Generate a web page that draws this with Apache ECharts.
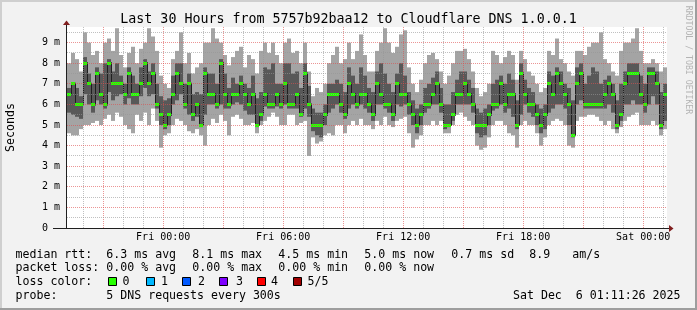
<!DOCTYPE html>
<html><head><meta charset="utf-8">
<script src="https://cdn.jsdelivr.net/npm/echarts@6/dist/echarts.min.js"></script>
<style>html,body{margin:0;padding:0;background:#f2f2f2}#c{width:697px;height:310px}</style>
</head><body><div id="c"></div>
<script>
// ---- data (ms), one column per 12 minutes, Thu 19:11:26 -> Sat 01:11:26 ----
const maxV = [8.0,8.5,8.2,7.6,9.5,9.0,8.4,8.6,8.0,9.0, 9.2,8.6,9.7,8.4,7.8,8.5,8.8,8.0,8.7,9.0, 9.7,9.3,8.6,7.4,7.0,6.8,8.2,8.6,9.5,8.0, 8.5,7.5,7.8,8.0,9.0,9.0,9.7,9.2,9.0,8.4, 7.9,8.3,8.6,8.8,7.8,8.4,8.2,7.5,8.6,9.0, 8.5,9.0,8.4,8.0,9.0,9.2,8.5,8.6,8.0,9.0, 7.6,6.4,6.8,6.6,7.0,8.0,8.4,8.8,8.0,8.2, 9.0,8.2,8.6,9.4,8.4,7.6,7.6,8.6,9.0,9.7, 9.0,8.5,8.8,9.4,9.6,7.8,7.0,6.6,7.2,8.0, 8.4,8.5,8.2,7.6,7.0,7.4,8.0,8.6,8.6,8.7, 8.2,7.6,6.8,6.4,6.6,7.0,8.6,8.4,8.0,8.3, 8.6,8.4,7.2,8.6,8.2,7.6,7.4,7.0,6.6,6.8, 8.6,8.4,9.2,8.2,8.0,7.6,7.4,8.6,8.6,8.4, 8.8,9.0,9.0,9.5,8.2,8.0,7.6,7.4,8.6,9.0, 9.0,9.2,9.7,8.6,8.0,8.0,8.2,8.0,7.6,7.8];
const q4V = [6.8,7.0,6.8,6.4,8.3,7.5,7.0,7.8,7.5,8.0, 8.2,7.6,8.0,7.4,7.0,7.8,7.4,7.0,7.8,8.2, 7.6,8.0,7.0,6.4,6.2,6.3,7.4,8.0,8.0,7.0, 7.5,6.5,6.6,6.5,7.8,7.5,7.5,7.0,8.2,7.5, 6.8,7.3,7.0,7.4,7.0,6.8,7.4,6.3,6.6,7.8, 7.7,8.0,7.0,7.0,8.0,8.0,7.5,7.6,6.8,8.0, 6.9,5.8,5.6,5.6,6.0,7.0,7.0,7.2,7.0,6.6, 7.8,7.4,7.0,7.8,7.4,6.8,6.6,7.6,8.0,7.5, 7.0,6.6,7.5,8.0,7.4,6.6,6.2,5.8,6.0,6.8, 7.0,7.3,7.6,6.8,6.0,6.0,6.6,7.2,7.6,7.6, 7.2,6.8,5.8,5.6,5.8,6.0,7.0,7.2,7.4,7.0, 7.5,7.2,6.2,8.0,7.2,6.8,6.6,6.0,5.8,6.0, 7.6,7.4,7.8,7.6,7.0,6.8,6.2,7.8,8.0,7.0, 7.4,7.8,7.6,7.0,7.2,7.4,7.0,6.2,7.0,7.6, 8.0,8.0,8.0,7.4,7.0,7.8,7.8,7.6,6.6,7.0];
const medV = [6.5,7.0,6.0,6.0,8.0,7.0,6.0,7.5,6.5,6.0, 8.0,7.0,7.0,7.0,6.5,7.5,6.5,6.5,7.0,8.0, 7.0,7.5,6.0,5.5,5.0,5.5,6.5,7.5,7.0,6.0, 7.0,5.5,6.0,5.0,7.5,6.5,6.5,6.0,8.0,6.5, 6.0,6.5,6.5,7.0,6.5,6.0,6.5,5.0,5.5,6.5, 6.0,6.0,6.5,6.0,7.0,6.0,6.0,6.5,5.5,7.5, 6.0,5.0,5.0,5.0,5.5,6.5,6.5,6.5,6.0,5.5, 7.0,6.5,6.0,6.5,6.5,6.0,5.5,7.0,6.5,6.0, 6.0,5.5,7.0,6.5,6.5,6.0,5.5,5.0,5.5,6.0, 6.0,6.5,7.0,6.0,5.0,5.0,5.5,6.5,6.5,7.0, 6.5,6.0,5.0,5.0,5.0,5.5,6.0,6.0,7.0,6.0, 6.5,6.5,5.0,7.5,6.5,6.0,6.0,5.5,5.0,5.5, 7.0,6.5,7.5,7.0,6.5,6.0,4.5,7.0,7.5,6.0, 6.0,6.0,6.0,6.0,6.5,7.0,6.5,5.0,5.5,7.0, 7.5,7.5,7.5,6.5,6.0,7.5,7.5,7.0,5.0,6.5];
const q2V = [5.6,5.5,5.4,5.3,6.5,6.0,5.6,6.2,6.0,5.8, 6.6,6.2,6.4,6.5,6.0,6.3,6.0,6.0,6.4,6.8, 6.4,6.5,5.8,5.0,4.8,5.0,6.0,6.2,6.5,5.8, 5.5,5.2,5.4,4.9,5.5,6.0,6.0,5.8,6.0,5.8, 5.8,6.0,6.1,6.0,5.7,5.5,5.5,4.9,5.2,5.9, 5.8,5.8,5.9,5.8,6.0,5.8,5.8,5.8,5.4,5.8, 5.4,4.7,4.5,4.4,5.0,5.6,5.8,6.0,5.6,5.3, 5.8,6.0,5.8,6.0,5.8,5.6,5.2,6.0,6.0,5.8, 5.6,5.2,6.0,5.9,6.0,5.5,5.0,4.6,5.0,5.6, 5.8,6.0,6.0,5.6,4.8,4.9,5.2,6.0,6.0,6.0, 6.0,5.6,4.6,4.4,4.5,5.0,5.7,5.8,6.0,5.6, 5.8,5.4,4.8,5.5,6.0,5.6,5.4,5.0,4.6,4.8, 5.6,5.8,6.0,6.0,5.8,5.0,4.4,6.0,6.2,5.8, 5.8,5.8,5.8,5.8,5.8,6.0,5.6,4.8,5.2,6.0, 6.0,6.2,6.0,6.0,5.6,6.0,6.4,6.0,4.8,5.2];
const minV = [4.6,4.5,4.5,4.8,5.0,5.0,5.1,5.2,5.0,5.3, 5.5,5.2,5.6,5.4,5.0,4.8,4.6,5.5,5.2,5.6, 5.0,5.8,5.2,3.9,4.5,4.6,5.0,5.3,5.2,5.0, 4.7,4.6,4.8,4.5,4.0,5.0,5.3,5.1,5.5,5.2, 4.5,5.4,5.5,5.3,5.0,5.0,5.1,4.6,5.0,5.2, 5.4,5.6,5.4,5.0,5.0,5.5,5.5,5.0,5.1,5.2, 3.5,4.4,4.1,4.2,4.5,4.6,4.5,5.0,5.0,4.6, 5.0,5.2,5.0,5.3,5.0,5.0,4.8,5.2,5.0,5.4, 5.0,4.9,5.2,5.3,5.4,4.6,3.9,4.3,4.5,5.0, 5.0,5.2,5.0,5.2,4.6,4.6,5.0,5.5,5.6,5.4, 5.2,5.0,4.0,3.8,3.9,4.4,5.0,5.2,5.2,5.0, 4.6,4.5,3.9,5.0,5.2,5.0,5.0,4.6,4.0,4.4, 5.0,5.2,5.3,5.2,5.0,4.0,3.9,5.2,5.4,5.4, 5.5,5.5,5.4,5.2,5.0,5.2,4.8,4.6,4.9,5.2, 5.4,5.5,5.6,5.0,5.0,5.0,5.2,5.0,4.5,4.8];

const startH = -(4 + 48/60 + 34/3600);   // Thu 19:11:26, hours relative to Fri 00:00
const stepH = 0.2;                        // 12 minutes per column
const endH = startH + 30;
const yMaxAxis = 9.76;

const xTickValues = [0, 6, 12, 18, 24];
const xTickLabels = ['Fri 00:00', 'Fri 06:00', 'Fri 12:00', 'Fri 18:00', 'Sat 00:00'];
const yTickValues = [0, 1, 2, 3, 4, 5, 6, 7, 8, 9];
const yTickLabels = ['0  ', '1 m', '2 m', '3 m', '4 m', '5 m', '6 m', '7 m', '8 m', '9 m'];

const lossLabels = ['0', '1', '2', '3', '4', '5/5'];
const lossColors = ['#26ff00', '#00b8ff', '#0059ff', '#7e00ff', '#ff0000', '#a10000'];

const statRtt = ['6.3 ms avg', '8.1 ms max', '4.5 ms min', '5.0 ms now', '0.7 ms sd', '8.9', 'am/s'];
const statLoss = ['0.00 % avg', '0.00 % max', '0.00 % min', '0.00 % now'];

// ---- build ----
const smokeData = medV.map((m, i) => [startH + i * stepH, minV[i], q2V[i], m, q4V[i], maxV[i], i > 0 ? medV[i - 1] : NaN]);
const vGrid = [];
for (let h = Math.ceil(startH); h <= Math.floor(endH); h++) vGrid.push([h, 0, (h % 3 === 0) ? 1 : 0]);
const hGrid = [];
for (let v = 0.5; v < yMaxAxis; v += 0.5) hGrid.push([startH, v, Number.isInteger(v) ? 1 : 0]);

const MONO = '"DejaVu Sans Mono", monospace';
const minorCol = 'rgba(150,150,150,0.6)';
const majorCol = 'rgba(222,79,79,0.6)';

function renderSmoke(params, api) {
  const x0 = api.value(0);
  const xa = api.coord([x0, 0])[0], xb = api.coord([x0 + stepH, 0])[0];
  const y = v => api.coord([x0, v])[1];
  const yMin = y(api.value(1)), yQ2 = y(api.value(2)), yMed = y(api.value(3)), yQ4 = y(api.value(4)), yMax = y(api.value(5));
  const prev = api.value(6);
  const ch = [
    {type: 'rect', shape: {x: xa, y: yMax, width: xb - xa, height: yMin - yMax}, style: {fill: '#a4a4a4'}},
    {type: 'rect', shape: {x: xa, y: yQ4, width: xb - xa, height: yQ2 - yQ4}, style: {fill: '#585858'}}
  ];
  if (!isNaN(prev)) {
    const yp = y(prev);
    const t = Math.min(yp, yMed) - 1, b = Math.max(yp, yMed) + 1;
    ch.push({type: 'rect', shape: {x: Math.round(xa), y: t, width: 1, height: b - t}, style: {fill: '#202020'}});
  }
  ch.push({type: 'rect', shape: {x: xa, y: Math.round(yMed - 1.5), width: xb - xa, height: 3}, style: {fill: lossColors[0]}});
  return {type: 'group', children: ch};
}
function renderVGrid(params, api) {
  const h = api.value(0);
  const x = Math.floor(api.coord([h, 0])[0]) + 0.5;
  const top = api.coord([h, yMaxAxis])[1], bot = api.coord([h, 0])[1];
  return {type: 'line', shape: {x1: x, y1: top, x2: x, y2: bot},
    style: {stroke: api.value(2) ? majorCol : minorCol, lineWidth: 1, lineDash: [1, 1]}};
}
function renderHGrid(params, api) {
  const v = api.value(1);
  const yy = Math.floor(api.coord([startH, v])[1]) + 0.5;
  const x1 = api.coord([startH, v])[0], x2 = api.coord([endH, v])[0];
  return {type: 'line', shape: {x1: x1, y1: yy, x2: x2, y2: yy},
    style: {stroke: api.value(2) ? majorCol : minorCol, lineWidth: 1, lineDash: [1, 1]}};
}

const txt = (text, x, y, o) => Object.assign({type: 'text', x: x, y: y, silent: true,
  style: Object.assign({text: text, font: '11.6px ' + MONO, fill: '#000', align: 'left', verticalAlign: 'middle',
    textAlign: 'left', textVerticalAlign: 'middle'}, (o && o.style) || {})}, o ? {rotation: o.rotation || 0} : {});

const L1 = 254.8, L2 = 268.4, L3 = 282.1, L4 = 295.8;
const rttX = [106.3, 192.3, 278.3, 364.3, 451.3, 529.3, 572.3];
const lossBoxX = [108, 146, 182, 219, 257, 293];
const lossTxtX = [122.5, 161, 198, 236, 271, 307.5];

const graphics = [
  // frame
  {type: 'rect', shape: {x: 0, y: 0, width: 697, height: 2}, style: {fill: '#cfcfcf'}, silent: true},
  {type: 'rect', shape: {x: 0, y: 0, width: 2, height: 310}, style: {fill: '#cfcfcf'}, silent: true},
  {type: 'rect', shape: {x: 0, y: 308, width: 697, height: 2}, style: {fill: '#9e9e9e'}, silent: true},
  {type: 'rect', shape: {x: 695, y: 0, width: 2, height: 310}, style: {fill: '#9e9e9e'}, silent: true},
  // axes
  {type: 'line', shape: {x1: 66.5, y1: 229, x2: 66.5, y2: 24}, style: {stroke: '#1f1f1f', lineWidth: 1}, silent: true, z: 20},
  {type: 'line', shape: {x1: 53, y1: 228.5, x2: 669, y2: 228.5}, style: {stroke: '#1f1f1f', lineWidth: 1}, silent: true, z: 20},
  {type: 'polygon', shape: {points: [[66.5, 20.5], [63, 25], [70, 25]]}, style: {fill: '#801f1f'}, silent: true, z: 20},
  {type: 'polygon', shape: {points: [[673.5, 228.5], [669, 225], [669, 232]]}, style: {fill: '#801f1f'}, silent: true, z: 20},
  // title, axis name, watermark
  txt('Last 30 Hours from 5757b92baa12 to Cloudflare DNS 1.0.0.1', 348.5, 19.4,
      {style: {font: '13.3px ' + MONO, align: 'center', textAlign: 'center'}}),
  txt('Seconds', 11, 127.5, {rotation: Math.PI / 2, style: {align: 'center', textAlign: 'center'}}),
  txt('RRDTOOL / TOBI OETIKER', 688.5, 60, {rotation: -Math.PI / 2,
      style: {font: '8.2px ' + MONO, fill: '#b4b4b4', align: 'center', textAlign: 'center'}}),
  // legend
  txt('median rtt:', 15.5, L1),
  txt('packet loss:', 15.5, L2),
  txt('loss color:', 15.5, L3),
  txt('probe:', 15.5, L4),
  txt('5 DNS requests every 300s', 106.3, L4),
  txt('Sat Dec  6 01:11:26 2025', 680.5, L4, {style: {align: 'right', textAlign: 'right'}})
];
statRtt.forEach((s, i) => graphics.push(txt(s, rttX[i], L1)));
statLoss.forEach((s, i) => graphics.push(txt(s, rttX[i], L2)));
lossLabels.forEach((s, i) => {
  graphics.push({type: 'rect', shape: {x: lossBoxX[i] + 0.5, y: 277.5, width: 8, height: 8},
    style: {fill: lossColors[i], stroke: '#000', lineWidth: 1}, silent: true});
  graphics.push(txt(s, lossTxtX[i], L3));
});

const chart = echarts.init(document.getElementById('c'), null, {renderer: 'canvas'});
chart.setOption({
  animation: false,
  backgroundColor: '#f2f2f2',
  grid: {left: 67, top: 27, width: 600, height: 201, show: true, backgroundColor: '#ffffff', borderWidth: 0},
  xAxis: {type: 'value', min: startH, max: endH,
    axisLine: {show: false}, axisTick: {show: false}, splitLine: {show: false},
    axisLabel: {customValues: xTickValues, margin: 4, fontFamily: 'DejaVu Sans Mono', fontSize: 10, color: '#000',
      formatter: v => xTickLabels[xTickValues.indexOf(Math.round(v))] || ''}},
  yAxis: {type: 'value', min: 0, max: yMaxAxis,
    axisLine: {show: false}, axisTick: {show: false}, splitLine: {show: false},
    axisLabel: {customValues: yTickValues, margin: 7, fontFamily: 'DejaVu Sans Mono', fontSize: 10, color: '#000',
      formatter: v => yTickLabels[yTickValues.indexOf(Math.round(v))] || ''}},
  series: [
    {type: 'custom', name: 'smoke', data: smokeData, encode: {x: 0, y: [1, 5]}, renderItem: renderSmoke, z: 2, silent: true, clip: true},
    {type: 'custom', name: 'vgrid', data: vGrid, encode: {x: 0, y: 1}, renderItem: renderVGrid, z: 5, silent: true},
    {type: 'custom', name: 'hgrid', data: hGrid, encode: {x: 0, y: 1}, renderItem: renderHGrid, z: 5, silent: true}
  ],
  graphic: {elements: graphics}
});
</script></body></html>
